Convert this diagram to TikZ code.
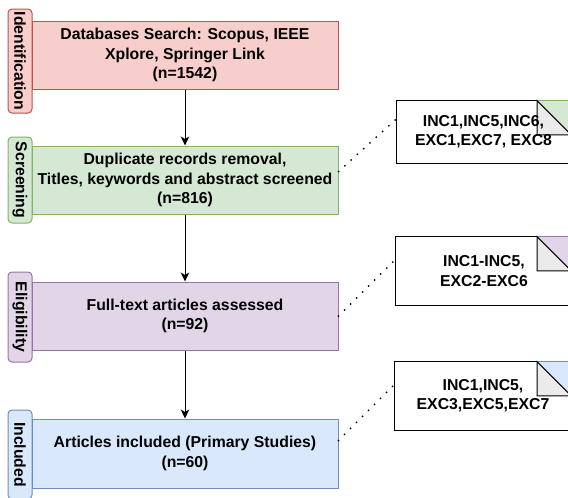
\documentclass[tikz,border=0pt]{standalone}
\usepackage{fontspec}
\setmainfont{Liberation Sans}
\usetikzlibrary{arrows.meta}
\definecolor{redF}{HTML}{F8CECC}
\definecolor{redS}{HTML}{B85450}
\definecolor{grnF}{HTML}{D5E8D4}
\definecolor{grnS}{HTML}{82B366}
\definecolor{purF}{HTML}{E1D5E7}
\definecolor{purS}{HTML}{9673A6}
\definecolor{bluF}{HTML}{DAE8FC}
\definecolor{bluS}{HTML}{6C8EBF}
\definecolor{foldgray}{HTML}{EBEBEB}
\newcommand\drawnote[3]{%
  \fill[white] (#1.north west) rectangle (#1.south east);
  \fill[#2] ([xshift=-34pt]#1.north east) -- (#1.north east) -- ([yshift=-34pt]#1.north east) -- cycle;
  \draw[#3, line width=1pt] ([xshift=-34pt]#1.north east) -- (#1.north east);
  \filldraw[fill=foldgray, draw=black, line width=1pt, line join=miter]
    ([xshift=-34pt]#1.north east) -- ([xshift=-34pt,yshift=-34pt]#1.north east)
    -- ([yshift=-34pt]#1.north east) -- cycle;
  \draw[line width=1pt] ([xshift=-34pt]#1.north east) -- (#1.north west) -- (#1.south west) -- (#1.south east);
}
\tikzset{
  txt/.style={font=\fontsize{15.8}{19.3}\selectfont\bfseries, text=black, align=center},
  stagelab/.style={txt, rotate=-90, rounded corners=4pt, line width=1pt, minimum height=24pt, inner sep=0pt},
  mainbox/.style={txt, line width=1pt, minimum width=306pt, inner sep=0pt},
  noteframe/.style={inner sep=0pt, minimum width=175pt},
  flow/.style={line width=1pt, -{Stealth[length=9pt,width=8.5pt,inset=2.5pt]}},
  dotline/.style={line width=2pt, line cap=round, dash pattern=on 0pt off 8.5pt},
}
\begin{document}
\begin{tikzpicture}[x=1pt,y=-1pt]
\useasboundingbox (0,0) rectangle (568,498);
\clip (0,0) rectangle (568,498);

% stage labels
\node[stagelab, draw=redS, fill=redF, minimum width=104pt] (l1) at (20,61) {Identification};
\node[stagelab, draw=grnS, fill=grnF, minimum width=86pt] (l2) at (20,180) {Screening};
\node[stagelab, draw=purS, fill=purF, minimum width=90pt] (l3) at (20,317) {Eligibility};
\node[stagelab, draw=bluS, fill=bluF, minimum width=89pt] (l4) at (20,454.5) {Included};

% main boxes
\node[mainbox, draw=redS, fill=redF, minimum height=68pt] (b1) at (185,55)
  {Databases Search: Scopus, IEEE\\Xplore, Springer Link\\(n=1542)};
\node[mainbox, draw=grnS, fill=grnF, minimum height=68pt] (b2) at (185,180)
  {Duplicate records removal,\\Titles, keywords and abstract screened\\(n=816)};
\node[mainbox, draw=purS, fill=purF, minimum height=68pt] (b3) at (185,316)
  {Full-text articles assessed\\(n=92)};
\node[mainbox, draw=bluS, fill=bluF, minimum height=69pt] (b4) at (185,453.5)
  {Articles included (Primary Studies)\\(n=60)};

% arrows
\draw[flow] (b1.south) -- (b2.north);
\draw[flow] (b2.south) -- (b3.north);
\draw[flow] (b3.south) -- (b4.north);

% notes
\node[noteframe, minimum width=174pt, minimum height=62pt] (n1) at (484,132) {};
\node[noteframe, minimum height=68pt] (n2) at (483.5,271) {};
\node[noteframe, minimum width=176pt, minimum height=68pt] (n3) at (483,396) {};
\drawnote{n1}{grnF}{grnS}
\drawnote{n2}{purF}{purS}
\drawnote{n3}{bluF}{bluS}
\node[txt] (t1) at ([xshift=-0.5pt]n1.center) {INC1,INC5,INC6,\\EXC1,EXC7, EXC8};
\node[txt] (t2) at ([xshift=0.5pt]n2.center) {INC1-INC5,\\EXC2-EXC6};
\node[txt] (t3) at (n3.center) {INC1,INC5,\\EXC3,EXC5,EXC7};

% dotted connectors
\draw[dotline] ([yshift=8.5pt]b2.east) -- ([yshift=13.5pt]n1.west);
\draw[dotline] (b3.east) -- ([yshift=12pt]n2.west);
\draw[dotline] ([yshift=13pt]b4.east) -- ([yshift=12pt]n3.west);
\end{tikzpicture}
\end{document}
